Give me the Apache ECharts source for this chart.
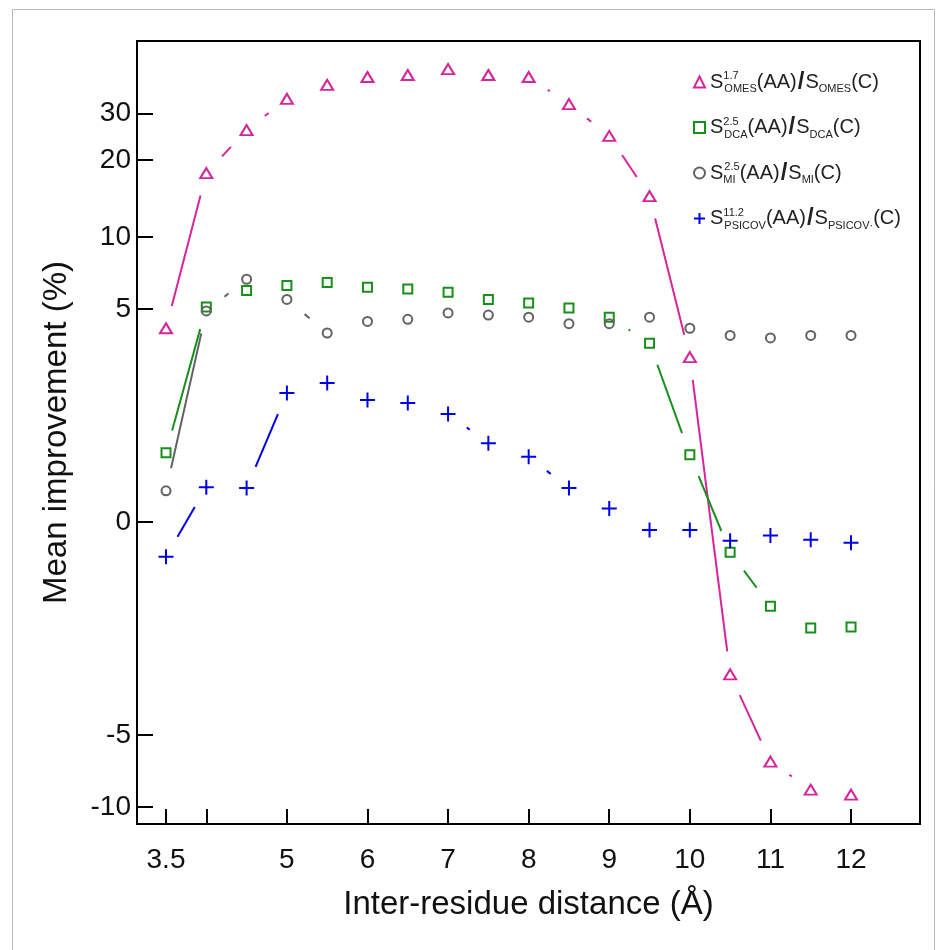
<!DOCTYPE html>
<html>
<head>
<meta charset="utf-8">
<script src="https://cdn.jsdelivr.net/npm/echarts@6/dist/echarts.min.js"></script>
<style>
  html, body { margin: 0; padding: 0; background: #fff; }
  #chart_div { width: 941px; height: 950px; }
</style>
</head>
<body>
<div id="chart_div"></div>
<script>
// inter-residue distance (Å)
var distance = [3.5, 4, 4.5, 5, 5.5, 6, 6.5, 7, 7.5, 8, 8.5, 9, 9.5, 10, 10.5, 11, 11.5, 12];
// mean improvement (%)
var omes   = [4.1, 17.8, 26.0, 34.1, 38.5, 41.2, 41.9, 44.1, 41.9, 41.2, 32.6, 24.7, 14.5, 3.0, -2.6, -6.5, -8.5, -8.9];
var dca    = [0.79, 5.1, 6.0, 6.3, 6.5, 6.2, 6.1, 5.9, 5.5, 5.3, 5.05, 4.6, 3.5, 0.76, -0.29, -1.03, -1.44, -1.42];
var mi     = [0.30, 4.9, 6.7, 5.5, 3.9, 4.4, 4.5, 4.8, 4.7, 4.6, 4.3, 4.3, 4.6, 4.1, 3.8, 3.7, 3.8, 3.8];
var psicov = [-0.34, 0.34, 0.33, 1.96, 2.22, 1.79, 1.72, 1.48, 0.94, 0.73, 0.33, 0.12, -0.07, -0.07, -0.17, -0.12, -0.16, -0.19];

var xTicks = [3.5, 4, 5, 6, 7, 8, 9, 10, 11, 12];
var xLabels = [3.5, 5, 6, 7, 8, 9, 10, 11, 12];
var yTicks = [-10, -5, 0, 5, 10, 20, 30];

// the y axis is a symmetric log scale: sign(v) * ln(1 + |v|)
function slog(v) { return v < 0 ? -Math.log(1 - v) : Math.log(1 + v); }
function unslog(t) { return t < 0 ? 1 - Math.exp(-t) : Math.exp(t) - 1; }

var PINK = '#d6249c', GREEN = '#17901a', GRAY = '#626262', BLUE = '#0000e8';
var GAP = 23; // line stops this far (px) from each marker

var groups = [
  { name: 'OMES', values: omes, color: PINK, symbol: 'triangle', size: [12, 10] },
  { name: 'DCA', values: dca, color: GREEN, symbol: 'rect', size: 9 },
  { name: 'MI', values: mi, color: GRAY, symbol: 'circle', size: 9 },
  { name: 'PSICOV', values: psicov, color: BLUE, symbol: 'path://M0,6H12M6,0V12', size: 15 }
];

var legendText = {
  OMES: '{m|S}{spz|1.7}{sb|OMES}{m|(AA)}{sl|/}{m|S}{sb|OMES}{m|(C)}',
  DCA: '{m|S}{spz|2.5}{sb|DCA}{m|(AA)}{sl|/}{m|S}{sb|DCA}{m|(C)}',
  MI: '{m|S}{sbz|MI}{sp|2.5}{m|(AA)}{sl|/}{m|S}{sb|MI}{m|(C)}',
  PSICOV: '{m|S}{spz|11.2}{sb|PSICOV}{m|(AA)}{sl|/}{m|S}{sb|PSICOV·}{m|(C)}'
};

function fillOf(g) { return g.symbol.indexOf('path') === 0 ? g.color : 'rgba(0,0,0,0)'; }

function segmentRenderer(color) {
  return function (params, api) {
    var p0 = api.coord([api.value(0), api.value(1)]);
    var p1 = api.coord([api.value(2), api.value(3)]);
    var dx = p1[0] - p0[0], dy = p1[1] - p0[1];
    var len = Math.sqrt(dx * dx + dy * dy);
    if (len <= 2 * GAP) return null;
    var ux = dx / len, uy = dy / len;
    return {
      type: 'line',
      shape: { x1: p0[0] + ux * GAP, y1: p0[1] + uy * GAP, x2: p1[0] - ux * GAP, y2: p1[1] - uy * GAP },
      style: { stroke: color, lineWidth: 2 }
    };
  };
}

var series = [];
groups.forEach(function (g) {
  var segs = [];
  for (var i = 0; i < distance.length - 1; i++) {
    segs.push([distance[i], slog(g.values[i]), distance[i + 1], slog(g.values[i + 1])]);
  }
  series.push({
    name: g.name + '-line',
    type: 'custom',
    renderItem: segmentRenderer(g.color),
    encode: { x: [0, 2], y: [1, 3] },
    data: segs,
    silent: true,
    z: 1
  });
});
groups.forEach(function (g) {
  series.push({
    name: g.name,
    type: 'scatter',
    symbol: g.symbol,
    symbolSize: g.size,
    itemStyle: { color: fillOf(g), borderColor: g.color, borderWidth: 2, opacity: 1 },
    emphasis: { disabled: true },
    data: distance.map(function (d, i) { return [d, slog(g.values[i])]; }),
    z: 3
  });
});

var myChart = echarts.init(document.getElementById('chart_div'));
myChart.setOption({
  animation: false,
  backgroundColor: '#fff',
  textStyle: { fontFamily: 'Liberation Sans, Arial, sans-serif' },
  graphic: [{
    type: 'rect', silent: true, z: -10,
    shape: { x: 12.5, y: 9.5, width: 922, height: 960 },
    style: { fill: 'none', stroke: '#b8b8b8', lineWidth: 1 }
  }],
  grid: { left: 137, right: 21, top: 41, bottom: 126, show: true, borderColor: '#000', borderWidth: 2 },
  legend: {
    orient: 'vertical',
    left: 693,
    top: 70,
    padding: 0,
    itemGap: 21,
    itemWidth: 11,
    itemHeight: 11,
    data: groups.map(function (g) {
      return {
        name: g.name,
        itemStyle: { color: fillOf(g), borderColor: g.color, borderWidth: 2, opacity: 1 }
      };
    }),
    formatter: function (name) { return legendText[name]; },
    textStyle: {
      color: '#222',
      fontSize: 20,
      rich: {
        m: { fontSize: 20, color: '#222' },
        sp: { fontSize: 11, color: '#222', padding: [0, 0, 12, 0] },
        spz: { fontSize: 11, color: '#222', padding: [0, 0, 12, 0], width: 1 },
        sb: { fontSize: 11, color: '#222', padding: [14, 0, 0, 0] },
        sbz: { fontSize: 11, color: '#222', padding: [14, 0, 0, 0], width: 1 },
        sl: { fontSize: 24, fontWeight: 'bold', color: '#222', padding: [0, 1, 0, 1] }
      }
    }
  },
  xAxis: {
    type: 'value',
    min: 3.14,
    max: 12.856,
    name: 'Inter-residue distance (Å)',
    nameLocation: 'middle',
    nameGap: 64,
    nameTextStyle: { fontSize: 33, color: '#111' },
    axisLine: { show: false, onZero: false },
    splitLine: { show: false },
    axisTick: { inside: true, length: 15, lineStyle: { color: '#000', width: 2 }, customValues: xTicks },
    axisLabel: { margin: 22, fontSize: 28, color: '#111', customValues: xLabels }
  },
  yAxis: {
    type: 'value',
    min: -2.540,
    max: 4.045,
    name: 'Mean improvement (%)',
    nameLocation: 'middle',
    nameGap: 64,
    nameTextStyle: { fontSize: 33, color: '#111' },
    axisLine: { show: false, onZero: false },
    splitLine: { show: false },
    axisTick: { inside: true, length: 16, lineStyle: { color: '#000', width: 2 }, customValues: yTicks.map(slog) },
    axisLabel: {
      margin: 6, fontSize: 28, color: '#111',
      customValues: yTicks.map(slog),
      formatter: function (v) { return String(Math.round(unslog(v))); }
    }
  },
  series: series
});
</script>
</body>
</html>
